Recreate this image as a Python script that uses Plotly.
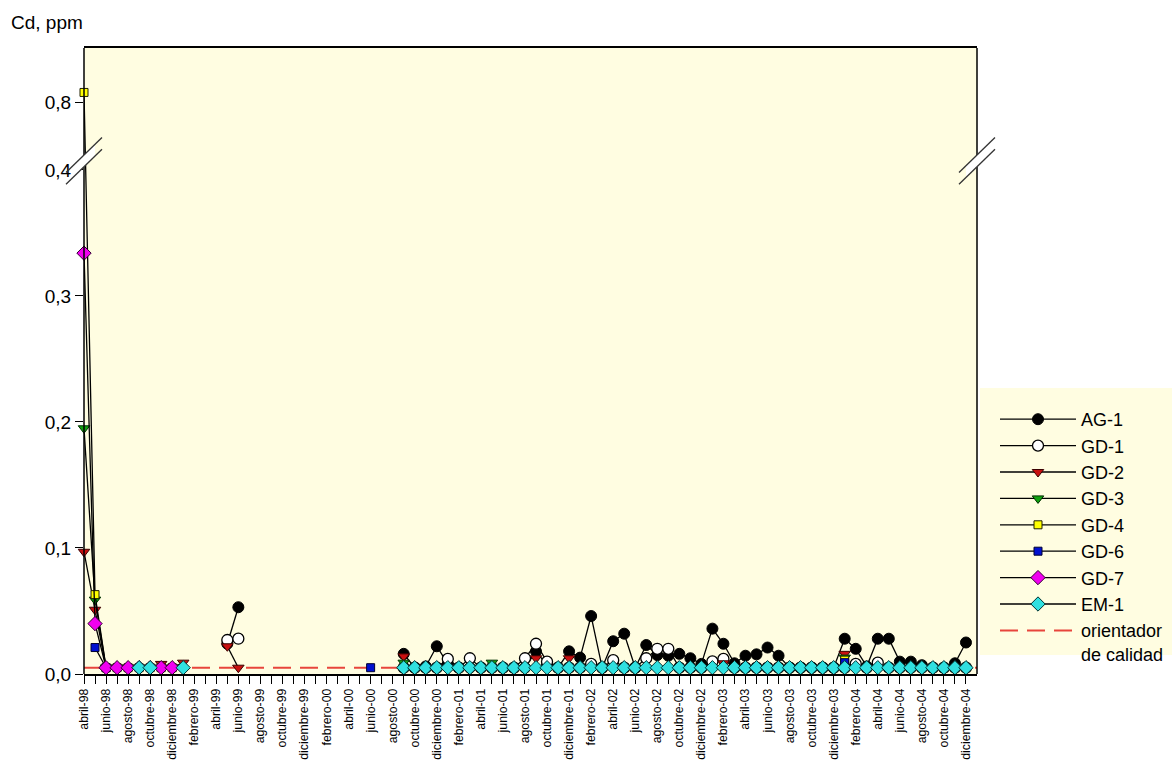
import plotly.graph_objects as go

# ---------------- data ----------------
MONTH_NAMES = ["enero", "febrero", "marzo", "abril", "mayo", "junio", "julio",
               "agosto", "septiembre", "octubre", "noviembre", "diciembre"]
MONTHS = [f"{MONTH_NAMES[m]}-{y % 100:02d}" for y in range(1998, 2005) for m in range(12)
          if not (y == 1998 and m < 3)]
TICK_LABELS = [m if i % 2 == 0 else "" for i, m in enumerate(MONTHS)]

Y_TICK_VALUES = [0.0, 0.1, 0.2, 0.3, 0.4, 0.8]
Y_TICK_LABELS = ["0,0", "0,1", "0,2", "0,3", "0,4", "0,8"]

ORIENTADOR_CALIDAD = 0.005

AG1 = {
    "mayo-99": 0.024, "junio-99": 0.053,
    "septiembre-00": 0.016, "octubre-00": 0.005, "noviembre-00": 0.006, "diciembre-00": 0.022,
    "enero-01": 0.008, "febrero-01": 0.005, "marzo-01": 0.005, "abril-01": 0.005, "mayo-01": 0.005,
    "junio-01": 0.005, "julio-01": 0.005, "agosto-01": 0.005, "septiembre-01": 0.018,
    "octubre-01": 0.007, "noviembre-01": 0.005, "diciembre-01": 0.018,
    "enero-02": 0.013, "febrero-02": 0.046, "marzo-02": 0.005, "abril-02": 0.026, "mayo-02": 0.032,
    "junio-02": 0.005, "julio-02": 0.023, "agosto-02": 0.015, "septiembre-02": 0.0145,
    "octubre-02": 0.016, "noviembre-02": 0.0125, "diciembre-02": 0.008,
    "enero-03": 0.036, "febrero-03": 0.024, "marzo-03": 0.0085, "abril-03": 0.0145, "mayo-03": 0.0156,
    "junio-03": 0.021, "julio-03": 0.0145, "agosto-03": 0.005, "septiembre-03": 0.005,
    "octubre-03": 0.005, "noviembre-03": 0.005, "diciembre-03": 0.005,
    "enero-04": 0.028, "febrero-04": 0.020, "marzo-04": 0.006, "abril-04": 0.028, "mayo-04": 0.028,
    "junio-04": 0.0098, "julio-04": 0.0098, "agosto-04": 0.007, "septiembre-04": 0.005,
    "octubre-04": 0.005, "noviembre-04": 0.0085, "diciembre-04": 0.025,
}
GD1 = {
    "mayo-99": 0.027, "junio-99": 0.028,
    "septiembre-00": 0.005, "octubre-00": 0.005, "noviembre-00": 0.005, "diciembre-00": 0.005,
    "enero-01": 0.012, "febrero-01": 0.005, "marzo-01": 0.0125, "abril-01": 0.005, "mayo-01": 0.005,
    "junio-01": 0.005, "julio-01": 0.005, "agosto-01": 0.0125, "septiembre-01": 0.024,
    "octubre-01": 0.0098, "noviembre-01": 0.005, "diciembre-01": 0.005,
    "enero-02": 0.005, "febrero-02": 0.008, "marzo-02": 0.005, "abril-02": 0.011, "mayo-02": 0.005,
    "junio-02": 0.005, "julio-02": 0.0125, "agosto-02": 0.020, "septiembre-02": 0.020,
    "octubre-02": 0.005, "noviembre-02": 0.005, "diciembre-02": 0.005,
    "enero-03": 0.010, "febrero-03": 0.012, "marzo-03": 0.005, "abril-03": 0.005, "mayo-03": 0.005,
    "junio-03": 0.005, "julio-03": 0.005, "agosto-03": 0.005, "septiembre-03": 0.005,
    "octubre-03": 0.005, "noviembre-03": 0.005, "diciembre-03": 0.005,
    "enero-04": 0.005, "febrero-04": 0.008, "marzo-04": 0.005, "abril-04": 0.009, "mayo-04": 0.005,
    "junio-04": 0.005, "julio-04": 0.005, "agosto-04": 0.005, "septiembre-04": 0.005,
    "octubre-04": 0.005, "noviembre-04": 0.005, "diciembre-04": 0.005,
}
GD2 = {
    "abril-98": 0.097, "mayo-98": 0.051, "junio-98": 0.005, "julio-98": 0.005, "agosto-98": 0.005,
    "septiembre-98": 0.005, "octubre-98": 0.005, "noviembre-98": 0.008, "diciembre-98": 0.005,
    "enero-99": 0.009, "mayo-99": 0.022, "junio-99": 0.005,
    "septiembre-00": 0.014, "septiembre-01": 0.0125, "diciembre-01": 0.0125,
    "febrero-03": 0.0085, "enero-04": 0.016,
}
GD3 = {
    "abril-98": 0.195, "mayo-98": 0.059, "junio-98": 0.005, "julio-98": 0.005, "agosto-98": 0.005,
    "septiembre-98": 0.005, "octubre-98": 0.005, "noviembre-98": 0.005, "diciembre-98": 0.005,
    "septiembre-00": 0.009, "mayo-01": 0.009, "enero-04": 0.013,
}
GD4 = {
    "abril-98": 0.87, "mayo-98": 0.063, "junio-98": 0.005, "julio-98": 0.005, "agosto-98": 0.005,
    "septiembre-98": 0.005, "octubre-98": 0.005, "noviembre-98": 0.005, "diciembre-98": 0.005,
    "enero-04": 0.011,
}
GD6 = {
    "mayo-98": 0.021, "junio-98": 0.005,
    "junio-00": 0.005, "enero-04": 0.009,
}
GD7 = {
    "abril-98": 0.334, "mayo-98": 0.040, "junio-98": 0.005, "julio-98": 0.005, "agosto-98": 0.005,
    "septiembre-98": 0.005, "octubre-98": 0.005, "noviembre-98": 0.005, "diciembre-98": 0.005,
}
EM1 = {
    "septiembre-98": 0.005, "octubre-98": 0.005, "enero-99": 0.005,
    "septiembre-00": 0.005, "octubre-00": 0.005, "noviembre-00": 0.005, "diciembre-00": 0.005,
    "enero-01": 0.005, "febrero-01": 0.005, "marzo-01": 0.005, "abril-01": 0.005, "mayo-01": 0.005,
    "junio-01": 0.005, "julio-01": 0.005, "agosto-01": 0.005, "septiembre-01": 0.005,
    "octubre-01": 0.005, "noviembre-01": 0.005, "diciembre-01": 0.005,
    "enero-02": 0.005, "febrero-02": 0.005, "marzo-02": 0.005, "abril-02": 0.005, "mayo-02": 0.005,
    "junio-02": 0.005, "julio-02": 0.005, "agosto-02": 0.005, "septiembre-02": 0.005,
    "octubre-02": 0.005, "noviembre-02": 0.005, "diciembre-02": 0.005,
    "enero-03": 0.005, "febrero-03": 0.005, "marzo-03": 0.005, "abril-03": 0.005, "mayo-03": 0.005,
    "junio-03": 0.005, "julio-03": 0.005, "agosto-03": 0.005, "septiembre-03": 0.005,
    "octubre-03": 0.005, "noviembre-03": 0.005, "diciembre-03": 0.005,
    "enero-04": 0.005, "febrero-04": 0.005, "marzo-04": 0.005, "abril-04": 0.005, "mayo-04": 0.005,
    "junio-04": 0.005, "julio-04": 0.005, "agosto-04": 0.005, "septiembre-04": 0.005,
    "octubre-04": 0.005, "noviembre-04": 0.005, "diciembre-04": 0.005,
}

# ---------------- broken y-axis transform ----------------
BREAK_AT = 0.4        # lower segment 0..0.4 drawn at full scale
BREAK_GAP = 0.0103    # gap between segments (plot units)
UPPER_SCALE = 0.109   # compression of the segment above the break
Y_TOP = 0.4968


def tr(v):
    if v is None:
        return None
    if v <= BREAK_AT:
        return v
    return BREAK_AT + BREAK_GAP + (v - BREAK_AT) * UPPER_SCALE


X_IDX = list(range(len(MONTHS)))


def full(d):
    return [tr(d.get(m)) for m in MONTHS]


FONT = "Liberation Sans, Arial, sans-serif"
LINE = dict(color="black", width=1.3)

series = [
    ("AG-1", AG1, dict(symbol="circle", size=11, color="black", line=dict(color="black", width=1))),
    ("GD-1", GD1, dict(symbol="circle", size=11, color="white", line=dict(color="black", width=1.3))),
    ("GD-2", GD2, dict(symbol="triangle-down", size=10, color="#C81010", line=dict(color="#3a0000", width=1))),
    ("GD-3", GD3, dict(symbol="triangle-down", size=10, color="#10A010", line=dict(color="#003000", width=1))),
    ("GD-4", GD4, dict(symbol="square", size=8, color="#FFFF00", line=dict(color="#202000", width=1))),
    ("GD-6", GD6, dict(symbol="square", size=8, color="#0010D0", line=dict(color="#000030", width=1))),
    ("GD-7", GD7, dict(symbol="diamond", size=11, color="#F000F0", line=dict(color="#300030", width=1))),
    ("EM-1", EM1, dict(symbol="diamond", size=11, color="#30E0E0", line=dict(color="#003030", width=1))),
]

fig = go.Figure()
# quality guideline drawn first so markers sit on top of it
fig.add_trace(go.Scatter(
    x=[0, len(MONTHS)], y=[tr(ORIENTADOR_CALIDAD)] * 2, mode="lines",
    name="orientador<br>de calidad", legendrank=2000,
    line=dict(color="#E8453C", width=2, dash="18px,9px"),
))
for name, d, mk in series:
    fig.add_trace(go.Scatter(
        x=X_IDX, y=full(d), name=name, mode="lines+markers", legendrank=1000,
        line=LINE, marker=mk, connectgaps=False, cliponaxis=False,
    ))

# ---------------- frame / break decorations ----------------
PX_W, PX_H = 893.0, 626.0
y_lo = BREAK_AT + 0.0025
y_hi = BREAK_AT + BREAK_GAP + 0.0016
dxp = 18 / PX_W
dxw = 11 / PX_W
dyu = 17.5 / 1260.0
dyw = dyu * 11 / 18
shapes = []
for xp in (0.0, 1.0):
    shapes.append(dict(type="line", xref="paper", yref="y", x0=xp, x1=xp, y0=0, y1=y_lo,
                       line=dict(color="black", width=1.5), layer="above"))
    shapes.append(dict(type="line", xref="paper", yref="y", x0=xp, x1=xp, y0=y_hi, y1=Y_TOP,
                       line=dict(color="black", width=1.5), layer="above"))
    path = (f"M{xp - dxw},{y_lo - dyw} L{xp + dxw},{y_lo + dyw} "
            f"L{xp + dxw},{y_hi + dyw} L{xp - dxw},{y_hi - dyw} Z")
    shapes.append(dict(type="path", xref="paper", yref="y", path=path,
                       fillcolor="white", line=dict(width=0), layer="above"))
    for yc in (y_lo, y_hi):
        shapes.append(dict(type="line", xref="paper", yref="y",
                           x0=xp - dxp, y0=yc - dyu, x1=xp + dxp, y1=yc + dyu,
                           line=dict(color="#333333", width=1.3), layer="above"))
# legend background panel
shapes.append(dict(type="rect", xref="paper", yref="paper",
                   x0=(980 - 84) / PX_W, x1=(1172 - 84) / PX_W,
                   y0=(674 - 655) / PX_H, y1=(674 - 388) / PX_H,
                   fillcolor="#FFFDE1", line=dict(width=0), layer="below"))

fig.update_layout(
    width=1172, height=760,
    margin=dict(l=84, r=195, t=48, b=86, autoexpand=False),
    paper_bgcolor="white", plot_bgcolor="#FFFDE1",
    font=dict(family=FONT, color="black", size=19),
    showlegend=True,
    legend=dict(x=(995 - 84) / PX_W, y=(674 - 401) / PX_H, xanchor="left", yanchor="top",
                bgcolor="rgba(0,0,0,0)", font=dict(size=18, family=FONT),
                valign="top", itemwidth=76),
    shapes=shapes,
    annotations=[dict(text="Cd, ppm", xref="paper", yref="paper",
                      x=(9 - 84) / PX_W, y=(674 - 22) / PX_H, xanchor="left", yanchor="middle",
                      showarrow=False, font=dict(size=19, family=FONT))],
)
fig.update_xaxes(
    range=[0, len(MONTHS)], tickmode="array", tickvals=X_IDX, ticktext=TICK_LABELS,
    tickangle=-90, tickfont=dict(size=12.3, family=FONT), ticks="outside", ticklen=8,
    tickwidth=1.2, tickcolor="black", showline=True, linecolor="black", linewidth=1.5,
    mirror=True, showgrid=False, zeroline=False, automargin=False,
)
fig.update_yaxes(
    range=[0, Y_TOP], tickmode="array", tickvals=[tr(v) for v in Y_TICK_VALUES],
    ticktext=Y_TICK_LABELS, ticks="outside", ticklen=8, tickwidth=1.2, tickcolor="black",
    tickfont=dict(size=19, family=FONT), showline=False, showgrid=False, zeroline=False,
    automargin=False,
)

fig.write_html("out.html")
